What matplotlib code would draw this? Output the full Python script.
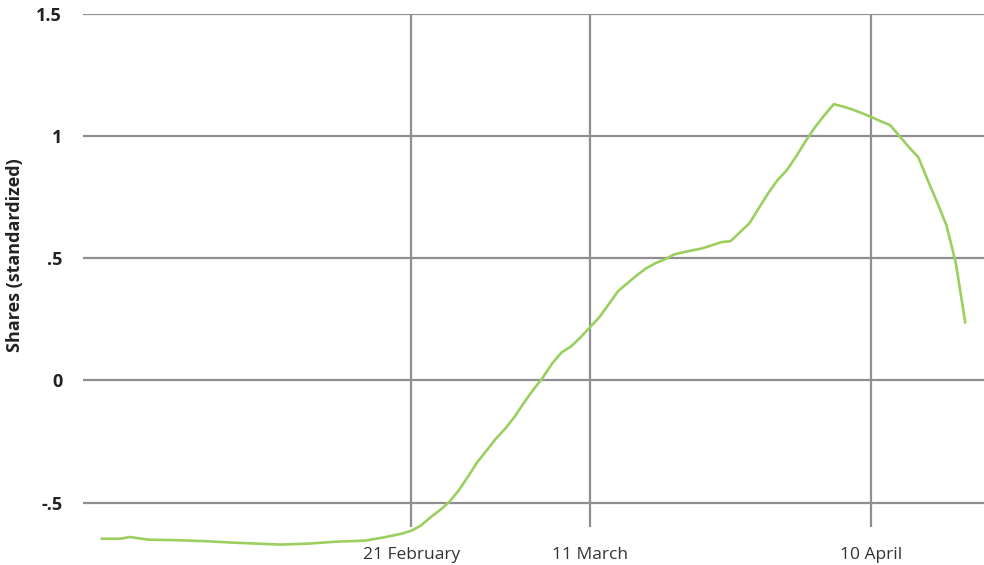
import matplotlib
matplotlib.use("Agg")
import matplotlib.pyplot as plt
import pandas as pd

# flat stretch in January / early February (sparse reading)
early_dates = ["2020-01-19", "2020-01-21", "2020-01-22", "2020-01-24", "2020-01-27",
               "2020-01-30", "2020-02-02", "2020-02-07", "2020-02-10", "2020-02-13",
               "2020-02-16", "2020-02-18", "2020-02-20"]
early_values = [-0.648, -0.648, -0.641, -0.652, -0.654,
                -0.658, -0.664, -0.672, -0.668, -0.660,
                -0.656, -0.643, -0.627]

# daily values from 21 February to 20 April
daily_values = [
    -0.615, -0.594, -0.561, -0.532, -0.498, -0.452, -0.395, -0.335, -0.287, -0.238,
    -0.197, -0.148, -0.090, -0.037, 0.012, 0.070, 0.115, 0.139, 0.176, 0.217,
    0.258, 0.311, 0.365, 0.398, 0.430, 0.459, 0.480, 0.496, 0.516, 0.525,
    0.533, 0.541, 0.553, 0.566, 0.570, 0.607, 0.643, 0.705, 0.766, 0.820,
    0.861, 0.918, 0.980, 1.037, 1.086, 1.131, 1.121, 1.109, 1.094, 1.078,
    1.061, 1.045, 1.000, 0.955, 0.914, 0.820, 0.730, 0.635, 0.480, 0.238,
]
daily_dates = pd.date_range("2020-02-21", periods=len(daily_values), freq="D")

dates = list(pd.to_datetime(early_dates)) + list(daily_dates)
values = early_values + daily_values

tick_dates = ["2020-02-21", "2020-03-11", "2020-04-10"]
tick_labels = ["21 February", "11 March", "10 April"]
y_ticks = [-0.5, 0, 0.5, 1, 1.5]
y_tick_labels = ["-.5", "0", ".5", "1", "1.5"]

GRID = "#8f8f93"
GREEN = "#9bcf5f"

plt.rcParams["font.family"] = ["Open Sans", "DejaVu Sans"]

fig = plt.figure(figsize=(9.84, 5.65), dpi=100)
ax = fig.add_axes([83 / 984, 38 / 565, 1 - 83 / 984, (527 - 14) / 565])

ax.plot(dates, values, color=GREEN, linewidth=1.9, clip_on=False, zorder=3)

ax.set_ylim(-0.6, 1.5)
ax.set_xlim(pd.Timestamp("2020-01-17"), pd.Timestamp("2020-04-22"))

ax.set_yticks(y_ticks)
ax.set_yticklabels(y_tick_labels, fontsize=13, fontweight="bold", color="#222222")
ax.set_xticks(pd.to_datetime(tick_dates))
ax.set_xticklabels(tick_labels, fontsize=12.5, color="#333333")

ax.tick_params(axis="both", length=0)
ax.tick_params(axis="y", pad=15)
ax.tick_params(axis="x", pad=14.5)

ax.grid(True, color=GRID, linewidth=1.6)
ax.set_axisbelow(True)
for s in ax.spines.values():
    s.set_visible(False)

ax.set_ylabel("Shares (standardized)", fontsize=13, fontweight="bold", color="#222222")
ax.yaxis.set_label_coords(-0.066, 0.53)

fig.savefig("out.png", dpi=100)
